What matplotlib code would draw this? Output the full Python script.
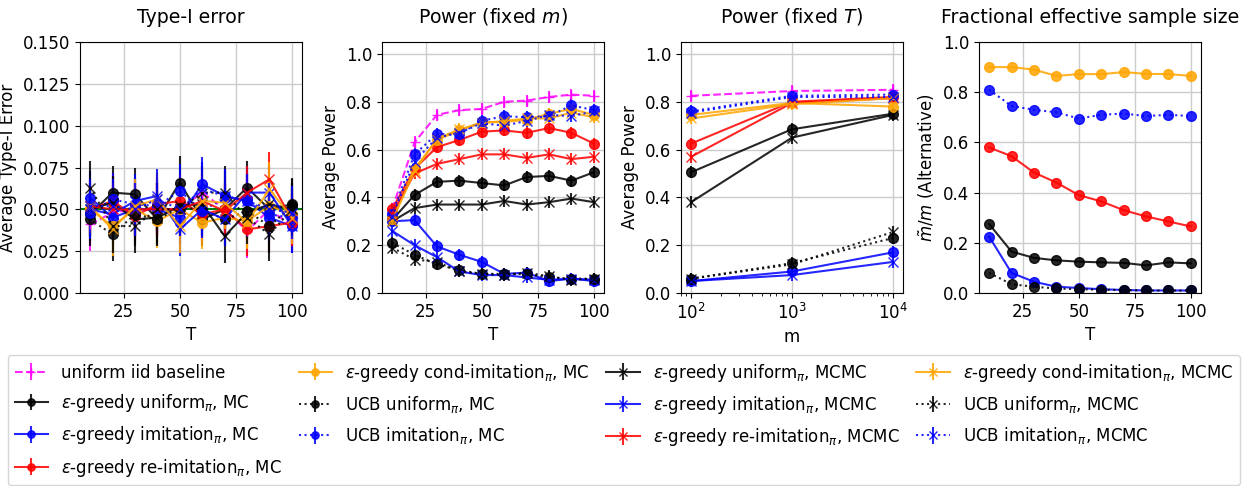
import numpy as np
import matplotlib
matplotlib.use("Agg")
import matplotlib.pyplot as plt

T = [10, 20, 30, 40, 50, 60, 70, 80, 90, 100]
M = [100, 1000, 10000]

labels = [
    "uniform iid baseline",
    r"$\varepsilon$-greedy uniform$_\pi$, MC",
    r"$\varepsilon$-greedy imitation$_\pi$, MC",
    r"$\varepsilon$-greedy re-imitation$_\pi$, MC",
    r"$\varepsilon$-greedy cond-imitation$_\pi$, MC",
    r"UCB uniform$_\pi$, MC",
    r"UCB imitation$_\pi$, MC",
    r"$\varepsilon$-greedy uniform$_\pi$, MCMC",
    r"$\varepsilon$-greedy imitation$_\pi$, MCMC",
    r"$\varepsilon$-greedy re-imitation$_\pi$, MCMC",
    r"$\varepsilon$-greedy cond-imitation$_\pi$, MCMC",
    r"UCB uniform$_\pi$, MCMC",
    r"UCB imitation$_\pi$, MCMC",
]
colors = ["magenta", "black", "blue", "red", "orange", "black", "blue",
          "black", "blue", "red", "orange", "black", "blue"]
styles = ["--", "-", "-", "-", "-", ":", ":", "-", "-", "-", "-", ":", ":"]
markers = ["+", "o", "o", "o", "o", "o", "o", "x", "x", "x", "x", "x", "x"]

# Type-I error vs T
type1 = [
    [0.041, 0.048, 0.050, 0.050, 0.050, 0.060, 0.050, 0.037, 0.050, 0.040],
    [0.047, 0.060, 0.059, 0.044, 0.066, 0.044, 0.050, 0.063, 0.050, 0.053],
    [0.057, 0.045, 0.050, 0.050, 0.045, 0.065, 0.058, 0.055, 0.045, 0.040],
    [0.050, 0.055, 0.046, 0.053, 0.055, 0.047, 0.050, 0.038, 0.040, 0.042],
    [0.050, 0.040, 0.050, 0.043, 0.050, 0.042, 0.045, 0.043, 0.052, 0.047],
    [0.044, 0.035, 0.047, 0.044, 0.051, 0.050, 0.044, 0.049, 0.040, 0.052],
    [0.048, 0.056, 0.053, 0.052, 0.061, 0.049, 0.057, 0.056, 0.047, 0.045],
    [0.050, 0.054, 0.044, 0.045, 0.052, 0.053, 0.034, 0.048, 0.053, 0.050],
    [0.050, 0.047, 0.055, 0.058, 0.038, 0.050, 0.044, 0.060, 0.060, 0.040],
    [0.052, 0.050, 0.050, 0.050, 0.050, 0.055, 0.049, 0.060, 0.068, 0.044],
    [0.052, 0.038, 0.052, 0.056, 0.040, 0.055, 0.054, 0.042, 0.062, 0.045],
    [0.063, 0.040, 0.040, 0.050, 0.050, 0.060, 0.060, 0.045, 0.035, 0.050],
    [0.052, 0.052, 0.050, 0.056, 0.050, 0.062, 0.058, 0.055, 0.050, 0.048],
]
type1_err = 0.016
alpha_level = 0.05

# Power vs T (fixed m)
power_T = [
    [0.35, 0.63, 0.745, 0.765, 0.77, 0.80, 0.805, 0.82, 0.83, 0.825],
    [0.305, 0.41, 0.465, 0.47, 0.46, 0.45, 0.485, 0.49, 0.47, 0.505],
    [0.30, 0.305, 0.195, 0.16, 0.13, 0.08, 0.085, 0.05, 0.06, 0.05],
    [0.35, 0.52, 0.61, 0.64, 0.675, 0.68, 0.67, 0.69, 0.67, 0.625],
    [0.31, 0.52, 0.64, 0.68, 0.715, 0.715, 0.725, 0.75, 0.77, 0.745],
    [0.21, 0.16, 0.12, 0.095, 0.08, 0.08, 0.08, 0.065, 0.06, 0.06],
    [0.33, 0.58, 0.665, 0.665, 0.72, 0.74, 0.735, 0.74, 0.785, 0.765],
    [0.30, 0.355, 0.37, 0.37, 0.37, 0.385, 0.37, 0.38, 0.395, 0.38],
    [0.26, 0.20, 0.15, 0.09, 0.075, 0.075, 0.065, 0.055, 0.06, 0.055],
    [0.33, 0.50, 0.54, 0.56, 0.58, 0.58, 0.565, 0.58, 0.56, 0.57],
    [0.30, 0.51, 0.645, 0.685, 0.71, 0.72, 0.73, 0.73, 0.755, 0.735],
    [0.19, 0.14, 0.13, 0.09, 0.08, 0.075, 0.085, 0.07, 0.055, 0.06],
    [0.32, 0.55, 0.65, 0.67, 0.71, 0.70, 0.72, 0.745, 0.74, 0.76],
]
power_err = 0.025

# Power vs m (fixed T)
power_m = [
    [0.825, 0.845, 0.85],
    [0.505, 0.685, 0.75],
    [0.05, 0.09, 0.17],
    [0.625, 0.80, 0.82],
    [0.745, 0.795, 0.78],
    [0.06, 0.125, 0.23],
    [0.76, 0.825, 0.83],
    [0.38, 0.65, 0.745],
    [0.05, 0.075, 0.13],
    [0.57, 0.795, 0.815],
    [0.73, 0.79, 0.815],
    [0.06, 0.12, 0.255],
    [0.755, 0.82, 0.82],
]

# Fractional effective sample size (MC series only)
ess_idx = [4, 6, 3, 1, 2, 5]
ess = [
    [0.90, 0.90, 0.89, 0.865, 0.872, 0.872, 0.88, 0.873, 0.872, 0.865],
    [0.81, 0.745, 0.73, 0.72, 0.695, 0.71, 0.715, 0.705, 0.71, 0.705],
    [0.58, 0.545, 0.48, 0.44, 0.39, 0.365, 0.33, 0.305, 0.285, 0.265],
    [0.275, 0.165, 0.14, 0.13, 0.125, 0.122, 0.12, 0.11, 0.122, 0.118],
    [0.225, 0.08, 0.045, 0.025, 0.02, 0.015, 0.012, 0.01, 0.01, 0.01],
    [0.08, 0.035, 0.025, 0.018, 0.015, 0.013, 0.012, 0.01, 0.01, 0.01],
]

plt.rcParams["font.size"] = 12
fig = plt.figure(figsize=(12.59, 4.86), dpi=100)
W, H = 1259, 486
lefts = [80, 382, 681, 979]
axw = 222
top, bot = 42, 293
axes = [fig.add_axes([l / W, 1 - bot / H, axw / W, (bot - top) / H]) for l in lefts]

def eb(ax, x, y, e, i, ms=7):
    return ax.errorbar(x, y, yerr=e, color=colors[i], ls=styles[i], marker=markers[i],
                       ms=ms, lw=1.5, alpha=0.85, label=labels[i])

TITLE_FS = 13.6
TITLE_PAD = 14

ax = axes[0]
for i in range(13):
    eb(ax, T, type1[i], type1_err, i)
ax.axhline(alpha_level, color="green", lw=1.5, zorder=1)
ax.set_ylim(0, 0.15)
ax.set_yticks([0, 0.025, 0.05, 0.075, 0.1, 0.125, 0.15])
ax.set_title("Type-I error", fontsize=TITLE_FS, pad=TITLE_PAD)
ax.set_ylabel("Average Type-I Error")
ax.set_xlabel("T")

ax = axes[1]
for i in range(13):
    eb(ax, T, power_T[i], power_err, i)
ax.set_ylim(0, 1.05)
ax.set_title(r"Power (fixed $m$)", fontsize=TITLE_FS, pad=TITLE_PAD)
ax.set_ylabel("Average Power")
ax.set_xlabel("T")

ax = axes[2]
for i in range(13):
    eb(ax, M, power_m[i], power_err, i)
ax.set_xscale("log")
ax.set_ylim(0, 1.05)
ax.set_title(r"Power (fixed $T$)", fontsize=TITLE_FS, pad=TITLE_PAD)
ax.set_ylabel("Average Power")
ax.set_xlabel("m")

ax = axes[3]
for k, i in enumerate(ess_idx):
    ax.plot(T, ess[k], color=colors[i], ls=styles[i], marker="o", ms=7, lw=1.5, alpha=0.85)
ax.set_ylim(0, 1.0)
ax.set_title("Fractional effective sample size", fontsize=TITLE_FS, pad=TITLE_PAD)
ax.set_ylabel(r"$\tilde{m}/m$ (Alternative)")
ax.set_xlabel("T")

for ax in axes:
    ax.grid(True, color="#cccccc", lw=1)
    ax.set_axisbelow(True)
for ax in [axes[0], axes[1], axes[3]]:
    ax.set_xticks([25, 50, 75, 100])

handles, labs = axes[1].get_legend_handles_labels()
fig.legend(handles, labs, loc="upper left", bbox_to_anchor=(8 / W, 1 - 355 / H),
           ncol=4, fontsize=12, labelspacing=0.62, columnspacing=1.0,
           markerscale=0.75, borderaxespad=0)

fig.savefig("out.png", dpi=100)
